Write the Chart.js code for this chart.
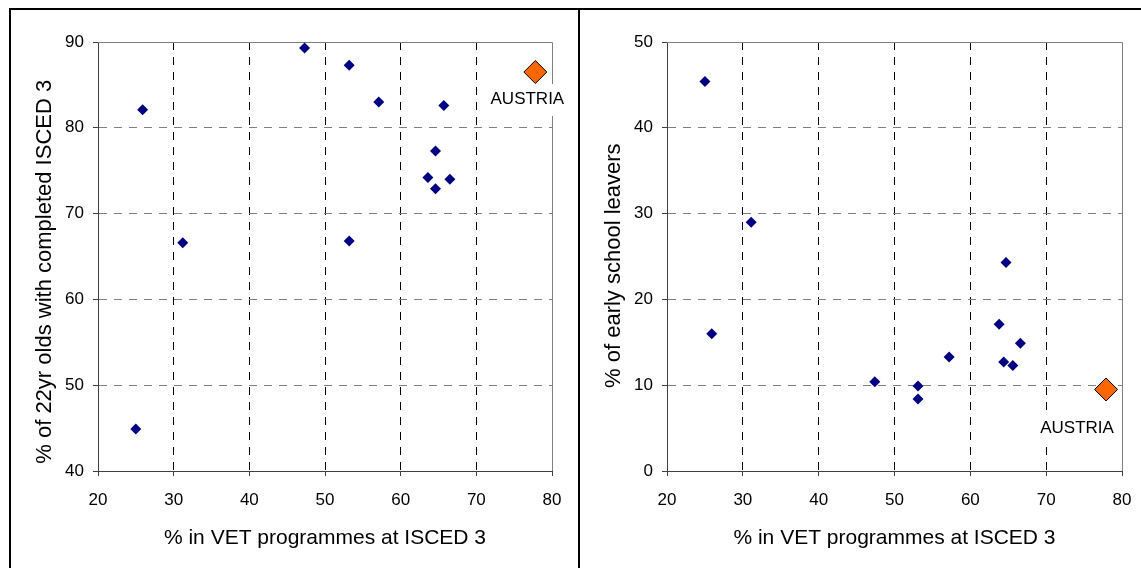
<!DOCTYPE html>
<html>
<head>
<meta charset="utf-8">
<script src="https://cdn.jsdelivr.net/npm/chart.js@4"></script>
<style>
  body { margin: 0; background: #fff; }
  #wrap { position: relative; width: 1141px; height: 568px; overflow: hidden; }
  canvas { position: absolute; top: 0; }
  #c1 { left: 0; }
  #c2 { left: 580px; }
  .frame { position: absolute; background: #000; pointer-events: none; }
</style>
</head>
<body>
<div id="wrap">
  <canvas id="c1" width="578" height="568"></canvas>
  <canvas id="c2" width="561" height="568"></canvas>
  <div class="frame" style="left:9px;top:8px;width:1132px;height:2px"></div>
  <div class="frame" style="left:9px;top:8px;width:2px;height:560px"></div>
  <div class="frame" style="left:578px;top:8px;width:2px;height:560px"></div>
</div>
<script>
// VET share vs completion of ISCED 3 (left panel)
const completedX = [25.0, 25.9, 31.2, 47.3, 53.2, 53.2, 57.1, 63.6, 64.6, 64.6, 65.7, 66.5];
const completedY = [44.9, 82.1, 66.6, 89.3, 87.3, 66.8, 83.0, 74.2, 77.3, 72.9, 82.6, 74.0];
const austriaCompleted = [77.8, 86.5];

// VET share vs early school leavers (right panel)
const leaversX = [25.0, 25.9, 31.1, 47.4, 53.1, 53.1, 57.2, 63.8, 64.7, 64.4, 65.6, 66.6];
const leaversY = [45.4, 16.0, 29.0, 10.4, 9.9, 8.4, 13.3, 17.1, 24.3, 12.7, 12.3, 14.9];
const austriaLeavers = [77.9, 9.5];

const xTicks = [20, 30, 40, 50, 60, 70, 80];
const xTitle = '% in VET programmes at ISCED 3';

const FONT = '"Liberation Sans", Arial, sans-serif';

// gray frame on top and right of the plot area, like excel
const plotFrame = {
    id: 'plotFrame',
    beforeDatasetsDraw(chart) {
        const {ctx, chartArea: a} = chart;
        ctx.save();
        ctx.strokeStyle = '#808080';
        ctx.lineWidth = 1;
        ctx.beginPath();
        ctx.moveTo(a.left, a.top + 0.5);
        ctx.lineTo(a.right + 0.5, a.top + 0.5);
        ctx.lineTo(a.right + 0.5, a.bottom);
        ctx.stroke();
        ctx.restore();
    }
};

// "AUSTRIA" label on a white box next to the orange point
const austriaLabel = {
    id: 'austriaLabel',
    afterDatasetsDraw(chart, args, opts) {
        const pt = chart.getDatasetMeta(1).data[0];
        const ctx = chart.ctx;
        ctx.save();
        ctx.font = '17px ' + FONT;
        const w = ctx.measureText(opts.text).width;
        const x = pt.x + opts.dx, y = pt.y + opts.dy;
        ctx.fillStyle = '#fff';
        ctx.fillRect(x - w / 2 - 5, y - 15, w + 10, 32);
        ctx.fillStyle = '#000';
        ctx.textAlign = 'center';
        ctx.textBaseline = 'middle';
        ctx.fillText(opts.text, x, y);
        ctx.restore();
    }
};

function showScatter(id, xs, ys, austria, yMin, yMax, yTitle, p) {
    new Chart(document.getElementById(id), {
        type: 'scatter',
        data: {
            datasets: [{
                data: xs.map((x, i) => ({x: x, y: ys[i]})),
                pointStyle: 'rectRot',
                pointRadius: 5.5,
                backgroundColor: '#000080',
                borderColor: '#000080',
                borderWidth: 0,
            }, {
                data: [{x: austria[0], y: austria[1]}],
                pointStyle: 'rectRot',
                pointRadius: 11.5,
                backgroundColor: '#ff6600',
                borderColor: '#000',
                borderWidth: 1,
            }]
        },
        options: {
            responsive: false,
            animation: false,
            layout: {padding: {left: 0, top: 42, right: p.right, bottom: 0}},
            plugins: {
                legend: {display: false},
                tooltip: {enabled: false},
                austriaLabel: {text: 'AUSTRIA', dx: p.labelDx, dy: p.labelDy},
            },
            scales: {
                x: {
                    type: 'linear',
                    min: 20, max: 80,
                    afterBuildTicks: s => { s.ticks = xTicks.map(v => ({value: v})); },
                    // fixed height, and no extra side padding for the end labels
                    afterFit: s => { s.height = 97; s.paddingLeft = 0; s.paddingRight = 0; },
                    grid: {
                        color: c => (c.tick && c.tick.value === 80) ? 'rgba(0,0,0,0)' : '#000',
                        tickColor: '#404040',
                        tickLength: 5,
                    },
                    border: {color: '#404040', dash: [8, 7]},
                    ticks: {color: '#000', font: {family: FONT, size: 17}, padding: 14, maxRotation: 0},
                    title: {display: true, text: xTitle, color: '#000',
                            font: {family: FONT, size: 21}, padding: {top: 0, bottom: 17}},
                },
                y: {
                    min: yMin, max: yMax,
                    ticks: {stepSize: 10, color: '#000', font: {family: FONT, size: 17}, padding: 9},
                    afterFit: s => { s.width = p.yWidth; s.paddingTop = 0; s.paddingBottom = 0; },
                    grid: {color: '#808080', tickColor: '#404040', tickLength: 5},
                    border: {color: '#404040', dash: [8, 7]},
                    // trailing spaces push the rotated title a bit lower, as in the original
                    title: {display: true, text: yTitle + p.yTitleTail, color: '#000',
                            font: {family: FONT, size: 22}, padding: {top: p.yTitlePad, bottom: 0}},
                }
            }
        },
        plugins: [plotFrame, austriaLabel]
    });
}

showScatter('c1', completedX, completedY, austriaCompleted, 40, 90,
    '% of 22yr olds with completed ISCED 3',
    {right: 26, yWidth: 98, yTitlePad: 32, yTitleTail: '     ', labelDx: -8, labelDy: 27});

showScatter('c2', leaversX, leaversY, austriaLeavers, 0, 50,
    '% of early school leavers',
    {right: 19, yWidth: 87, yTitlePad: 21, yTitleTail: '   ', labelDx: -29, labelDy: 39});
</script>
</body>
</html>
